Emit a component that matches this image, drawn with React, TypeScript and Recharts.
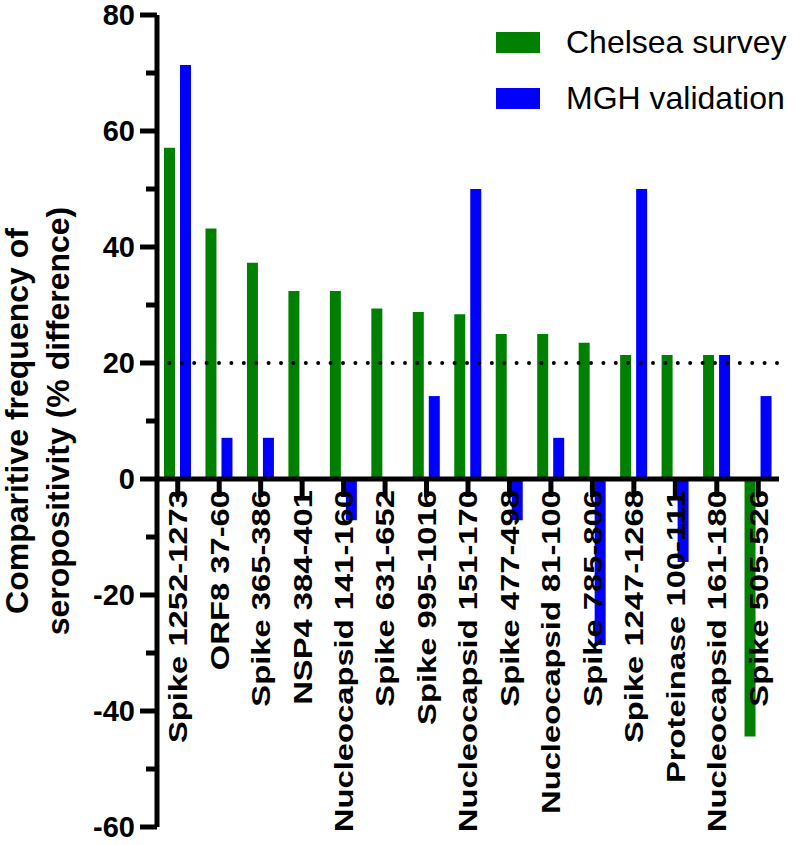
import React from 'react';
import { BarChart, Bar, XAxis, YAxis, ReferenceLine, Legend } from 'recharts';

const categories = [
  'Spike 1252-1273',
  'ORF8 37-60',
  'Spike 365-386',
  'NSP4 384-401',
  'Nucleocapsid 141-160',
  'Spike 631-652',
  'Spike 995-1016',
  'Nucleocapsid 151-170',
  'Spike 477-498',
  'Nucleocapsid 81-100',
  'Spike 785-806',
  'Spike 1247-1268',
  'Proteinase 100-111',
  'Nucleocapsid 161-180',
  'Spike 505-526',
];
const chelseaSurvey = [57.1, 43.2, 37.3, 32.4, 32.4, 29.4, 28.8, 28.4, 25.0, 25.0, 23.5, 21.4, 21.4, 21.4, -44.4];
const mghValidation = [71.4, 7.1, 7.1, 0, -7.1, 0, 14.3, 50, -7.1, 7.1, -28.6, 50, -14.3, 21.4, 14.3];
const yTicks = [-60, -50, -40, -30, -20, -10, 0, 10, 20, 30, 40, 50, 60, 70, 80];
const yMajorTicks = [-60, -40, -20, 0, 20, 40, 60, 80];
const thresholdValue = 20;
const seriesNames = { chelsea: 'Chelsea survey', mgh: 'MGH validation' };

const data = categories.map((name, i) => ({ name, chelsea: chelseaSurvey[i], mgh: mghValidation[i] }));

const FONT = '"Liberation Sans", Arial, Helvetica, sans-serif';
const W = 800;
const H = 845;
const MARGIN = { top: 15, right: 21, left: 0, bottom: 8 };
const XAXIS_H = 10;
const YAXIS_W = 157;
const Y_MIN = -60;
const Y_MAX = 80;
const TICK_SIZE = 16;
const TICK_MARGIN = 6;
const PLOT_TOP = MARGIN.top;
const PLOT_H = H - MARGIN.top - MARGIN.bottom - XAXIS_H;
const zeroY = PLOT_TOP + ((Y_MAX - 0) / (Y_MAX - Y_MIN)) * PLOT_H;

const YTick = (props: any) => {
  const { x, y, payload } = props;
  const axisX = x + TICK_SIZE + TICK_MARGIN;
  const major = yMajorTicks.includes(payload.value);
  return (
    <g>
      <line x1={axisX - (major ? 17 : 11)} x2={axisX} y1={y} y2={y} stroke="#000" strokeWidth={5} />
      {major && (
        <text
          x={axisX - 22}
          y={y}
          dy="0.355em"
          textAnchor="end"
          fontFamily={FONT}
          fontWeight="bold"
          fontSize={29}
          fill="#000"
        >
          {payload.value}
        </text>
      )}
    </g>
  );
};

const XTick = (props: any) => {
  const { x, payload } = props;
  return (
    <g>
      <line x1={x} x2={x} y1={zeroY} y2={zeroY + 18} stroke="#000" strokeWidth={5} />
      <text
        transform={`translate(${x},${zeroY + 11}) rotate(-90) scale(1.26,1)`}
        x={0}
        y={0}
        dy="0.36em"
        textAnchor="end"
        fontFamily={FONT}
        fontWeight="bold"
        fontSize={26}
        fill="#000"
      >
        {payload.value}
      </text>
    </g>
  );
};

const YLabel = (props: any) => {
  const vb = props && props.viewBox;
  const cy = vb && typeof vb.y === 'number' ? vb.y + vb.height / 2 : PLOT_TOP + PLOT_H / 2;
  return (
    <g>
      <text
        transform={`rotate(-90, 28, ${cy})`}
        x={28}
        y={cy}
        textAnchor="middle"
        fontFamily={FONT}
        fontWeight="bold"
        fontSize={32}
        fill="#000"
      >
        Comparitive frequency of
      </text>
      <text
        transform={`rotate(-90, 69, ${cy})`}
        x={69}
        y={cy}
        textAnchor="middle"
        fontFamily={FONT}
        fontWeight="bold"
        fontSize={32}
        fill="#000"
      >
        seropositivity (% difference)
      </text>
    </g>
  );
};

const LegendContent = (props: any) => (
  <div>
    {(props.payload || []).map((e: any) => (
      <div key={e.value} style={{ display: 'flex', alignItems: 'center', height: 21, marginBottom: 35 }}>
        <div style={{ width: 44, height: 21, background: e.color }} />
        <span
          style={{
            marginLeft: 26,
            fontSize: 32,
            fontFamily: FONT,
            color: '#000',
            lineHeight: '21px',
            whiteSpace: 'nowrap',
          }}
        >
          {e.value}
        </span>
      </div>
    ))}
  </div>
);

export default function App() {
  return (
    <div style={{ position: 'absolute', left: 0, top: 0, width: W, height: H, background: '#fff' }}>
      <BarChart width={W} height={H} data={data} margin={MARGIN} barGap={5}>
        <ReferenceLine
          y={thresholdValue}
          stroke="#000"
          strokeWidth={4}
          strokeDasharray="0 12.4"
          strokeLinecap="round"
        />
        <XAxis
          dataKey="name"
          interval={0}
          height={XAXIS_H}
          axisLine={false}
          tickLine={false}
          tick={<XTick />}
        />
        <YAxis
          type="number"
          domain={[Y_MIN, Y_MAX]}
          ticks={yTicks}
          interval={0}
          width={YAXIS_W}
          tickSize={TICK_SIZE}
          tickMargin={TICK_MARGIN}
          tickLine={false}
          axisLine={{ stroke: '#000', strokeWidth: 5 }}
          tick={<YTick />}
          label={(p: any) => <YLabel {...p} />}
        />
        <Legend
          layout="vertical"
          align="center"
          verticalAlign="middle"
          wrapperStyle={{ position: 'absolute', left: 496, top: 32, width: 304, height: 90 }}
          content={LegendContent}
        />
        <Bar dataKey="chelsea" name={seriesNames.chelsea} fill="#008000" barSize={11} isAnimationActive={false} />
        <Bar dataKey="mgh" name={seriesNames.mgh} fill="#0000FF" barSize={11} isAnimationActive={false} />
        <ReferenceLine y={0} stroke="#000" strokeWidth={5} />
      </BarChart>
    </div>
  );
}
